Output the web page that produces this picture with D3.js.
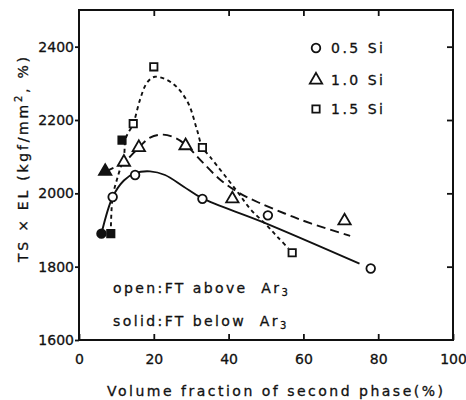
<!DOCTYPE html>
<html>
<head>
<meta charset="utf-8">
<script src="https://cdn.jsdelivr.net/npm/d3@7/dist/d3.min.js"></script>
<style>
  html, body { margin: 0; padding: 0; background: #fff; }
  svg { display: block; }
  text { font-family: "DejaVu Sans", sans-serif; fill: #111; stroke: #111; stroke-width: 0.3px; }
</style>
</head>
<body>
<svg id="chart" width="466" height="400"></svg>
<script>
// Axis ticks
const xTicks = [0, 20, 40, 60, 80, 100];
const yTicks = [1600, 1800, 2000, 2200, 2400];

// Measured points: volume fraction of second phase (%) and TS x EL
// open = finish temperature above Ar3, solid = below Ar3
const si05OpenX = [9, 15, 33, 50.5, 78];
const si05OpenY = [1990, 2050, 1985, 1940, 1795];
const si05SolidX = [6];
const si05SolidY = [1890];

const si10OpenX = [12, 16, 28.5, 41, 71];
const si10OpenY = [2085, 2125, 2130, 1985, 1925];
const si10SolidX = [7];
const si10SolidY = [2060];

const si15OpenX = [14.5, 20, 33, 57];
const si15OpenY = [2190, 2345, 2125, 1838];
const si15SolidX = [8.5, 11.5];
const si15SolidY = [1890, 2145];

// Trend curves drawn through the data
const si05CurveX = [6, 9, 12, 15, 19, 23, 28, 33, 49, 75];
const si05CurveY = [1890, 1990, 2035, 2055, 2060, 2050, 2018, 1986, 1922, 1808];

const si10CurveX = [7, 12, 16, 19, 22.5, 26, 29, 33, 38, 43, 48, 55, 62, 72.5];
const si10CurveY = [2060, 2085, 2125, 2152, 2160, 2150, 2128, 2085, 2035, 2000, 1975, 1945, 1918, 1884];

const si15CurveX = [8.5, 9, 10.5, 12, 12.5, 14.5, 16.3, 18.2, 20.3, 25, 29, 31.5, 33, 35, 42, 46, 50, 53, 56];
const si15CurveY = [1890, 1990, 2050, 2100, 2150, 2190, 2255, 2302, 2318, 2300, 2250, 2175, 2125, 2100, 2009, 1955, 1915, 1882, 1850];

const legendLabels = ["0.5 Si", "1.0 Si", "1.5 Si"];

const svg = d3.select("#chart");
const plotLeft = 79, plotRight = 453, plotTop = 10, plotBottom = 340;

const x = d3.scaleLinear().domain([0, 100]).range([plotLeft, plotRight]);
const y = d3.scaleLinear().domain([1600, 2500]).range([plotBottom, plotTop]);

const ink = "#111";

// Axes
const axisStyle = g => {
  g.select(".domain").remove();
  g.selectAll("line").attr("stroke", ink).attr("stroke-width", 1.8);
  g.selectAll("text").attr("font-size", 14).attr("fill", ink)
    .style("font-family", "'DejaVu Sans', sans-serif");
};

svg.append("g").attr("transform", `translate(0,${plotBottom})`)
  .call(d3.axisBottom(x).tickValues(xTicks).tickFormat(d3.format("d"))
    .tickSizeInner(-6).tickSizeOuter(0).tickPadding(14))
  .call(axisStyle);
svg.append("g").attr("transform", `translate(0,${plotTop})`)
  .call(d3.axisTop(x).tickValues(xTicks.slice(1, -1)).tickSizeInner(-6).tickSizeOuter(0).tickFormat(""))
  .call(axisStyle);
svg.append("g").attr("transform", `translate(${plotLeft},0)`)
  .call(d3.axisLeft(y).tickValues(yTicks).tickFormat(d3.format("d"))
    .tickSizeInner(4).tickSizeOuter(0).tickPadding(1))
  .call(axisStyle);
svg.append("g").attr("transform", `translate(${plotRight},0)`)
  .call(d3.axisRight(y).tickValues(yTicks.slice(1)).tickSizeInner(-6).tickSizeOuter(0).tickFormat(""))
  .call(axisStyle);

// Frame
svg.append("rect")
  .attr("x", plotLeft).attr("y", plotTop)
  .attr("width", plotRight - plotLeft).attr("height", plotBottom - plotTop)
  .attr("fill", "none").attr("stroke", ink).attr("stroke-width", 2);

// Curves
const line = d3.line()
  .x(d => x(d[0])).y(d => y(d[1]))
  .curve(d3.curveCatmullRom.alpha(0.5));
const zip = (xs, ys) => xs.map((v, i) => [v, ys[i]]);

const curves = [
  { pts: zip(si05CurveX, si05CurveY), dash: null },
  { pts: zip(si10CurveX, si10CurveY), dash: "9,5" },
  { pts: zip(si15CurveX, si15CurveY), dash: "4,3.5" }
];
svg.append("g").selectAll("path").data(curves).join("path")
  .attr("d", d => line(d.pts))
  .attr("fill", "none")
  .attr("stroke", ink)
  .attr("stroke-width", 1.9)
  .attr("stroke-dasharray", d => d.dash);

// Markers
const markerPath = {
  circle: d3.symbol().type(d3.symbolCircle).size(58)(),
  triangle: d3.symbol().type(d3.symbolTriangle).size(66)(),
  square: d3.symbol().type(d3.symbolSquare).size(54)()
};

const markerSets = [
  { xs: si05OpenX, ys: si05OpenY, shape: "circle", solid: false },
  { xs: si05SolidX, ys: si05SolidY, shape: "circle", solid: true },
  { xs: si10OpenX, ys: si10OpenY, shape: "triangle", solid: false },
  { xs: si10SolidX, ys: si10SolidY, shape: "triangle", solid: true },
  { xs: si15OpenX, ys: si15OpenY, shape: "square", solid: false },
  { xs: si15SolidX, ys: si15SolidY, shape: "square", solid: true }
];

const markers = svg.append("g");
markerSets.forEach(set => {
  markers.selectAll(null).data(zip(set.xs, set.ys)).join("path")
    .attr("transform", d => `translate(${x(d[0])},${y(d[1])})`)
    .attr("d", markerPath[set.shape])
    .attr("fill", set.solid ? ink : "#fff")
    .attr("stroke", ink)
    .attr("stroke-width", 1.8);
});

// Legend
const legendShapes = ["circle", "triangle", "square"];
const legendY = [48, 80, 109];
const legend = svg.append("g");
legendLabels.forEach((lab, i) => {
  legend.append("path")
    .attr("transform", `translate(316,${legendY[i]})`)
    .attr("d", markerPath[legendShapes[i]])
    .attr("fill", "#fff").attr("stroke", ink).attr("stroke-width", 1.8);
  legend.append("text")
    .attr("x", 331).attr("y", legendY[i] + 5)
    .attr("font-size", 14)
    .attr("letter-spacing", 2.5)
    .text(lab);
});

// Notes on finish temperature
const notes = [
  { pre: "open:FT above Ar", y: 293 },
  { pre: "solid:FT below Ar", y: 326 }
];
notes.forEach(n => {
  const t = svg.append("text")
    .attr("x", 113).attr("y", n.y)
    .attr("font-size", 14)
    .attr("letter-spacing", 2.4)
    .attr("xml:space", "preserve");
  t.append("tspan").text(n.pre.replace(" Ar", "  Ar"));
  t.append("tspan").attr("font-size", 10).attr("dy", 3).text("3");
});

// Axis titles
svg.append("text")
  .attr("x", 107).attr("y", 396)
  .attr("font-size", 14)
  .attr("textLength", 336).attr("lengthAdjust", "spacing")
  .text("Volume fraction of second phase(%)");

const yTitle = svg.append("text")
  .attr("transform", "translate(28,262) rotate(-90)")
  .attr("font-size", 14)
  .attr("textLength", 205).attr("lengthAdjust", "spacing");
yTitle.append("tspan").text("TS × EL (kgf/mm");
yTitle.append("tspan").attr("font-size", 10).attr("dy", -6).text("2");
yTitle.append("tspan").attr("dy", 6).text(", %)");
</script>
</body>
</html>
